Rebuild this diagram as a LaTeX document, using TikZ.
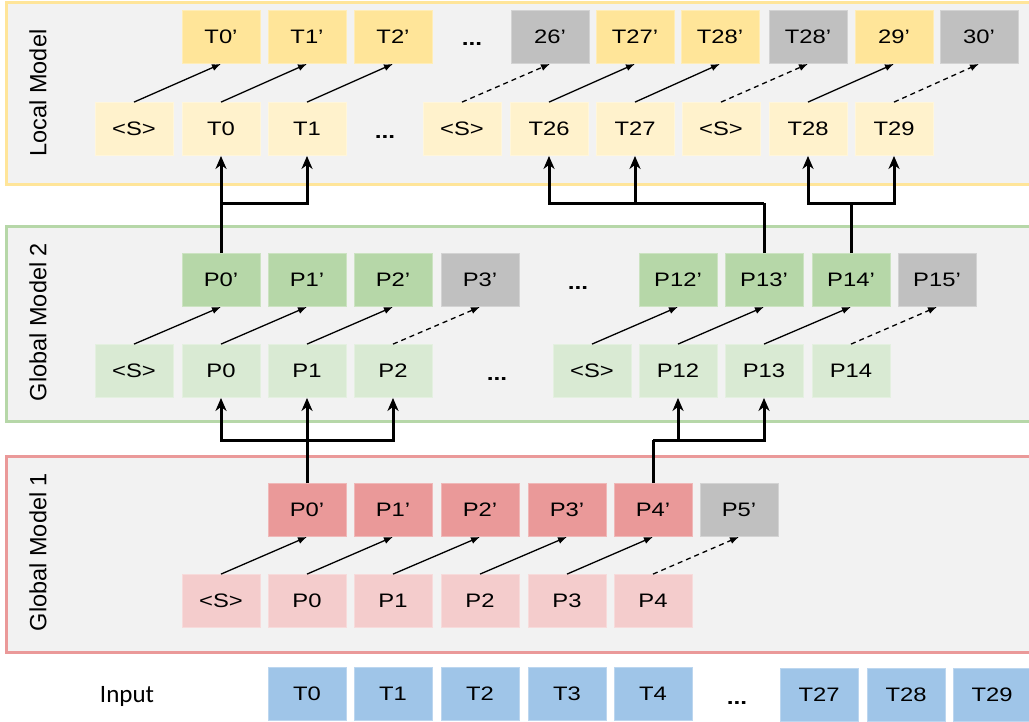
\documentclass[tikz,border=0pt]{standalone}
\usepackage{fontspec}
\usetikzlibrary{arrows.meta}
\newfontfamily\boxfont[FakeStretch=1.22]{Liberation Sans}
\newfontfamily\labfont{Liberation Sans}
\newfontfamily\inpfont{Carlito}
\definecolor{panelbg}{HTML}{F2F2F2}
\definecolor{ytop}{HTML}{FFE599}
\definecolor{ybot}{HTML}{FFF2CC}
\definecolor{gtop}{HTML}{B6D7A8}
\definecolor{gbot}{HTML}{D9EAD3}
\definecolor{rtop}{HTML}{EA9999}
\definecolor{rbot}{HTML}{F4CCCC}
\definecolor{blu}{HTML}{9FC5E8}
\definecolor{gry}{HTML}{C0C0C0}
\tikzset{
  cell/.style={minimum width=78pt, minimum height=53pt, inner sep=0pt,
    font=\boxfont\fontsize{19.5}{22}\selectfont, line width=0.8pt},
  yt/.style={cell, fill=ytop, draw=ytop!70!white},
  yb/.style={cell, fill=ybot, draw=ybot!70!white},
  gt/.style={cell, fill=gtop, draw=gtop!70!white},
  gb/.style={cell, fill=gbot, draw=gbot!70!white},
  rt/.style={cell, fill=rtop, draw=rtop!70!white},
  rb/.style={cell, fill=rbot, draw=rbot!70!white},
  inp/.style={cell, fill=blu, draw=blu!70!white},
  gr/.style={cell, fill=gry, draw=gry!70!white},
  dots/.style={inner sep=0pt, font=\boxfont\bfseries\fontsize{20}{22}\selectfont},
  panel/.style={fill=panelbg, line width=3pt},
  plabel/.style={rotate=90, font=\labfont\fontsize{23.5}{26}\selectfont},
  diag/.style={line width=1.3pt, -{Latex[length=9pt,width=7pt]}},
  diagd/.style={diag, dash pattern=on 5pt off 4pt},
  conn/.style={line width=3pt, -{Stealth[length=13pt,width=11pt,inset=4pt]}},
  connl/.style={line width=3pt},
}
\begin{document}
\begin{tikzpicture}[x=1pt,y=-1pt]
\useasboundingbox (0,0) rectangle (1029,721);
% panels
\draw[panel, draw=ytop] (6,2) rectangle (1045,184);
\draw[panel, draw=gtop] (6,226) rectangle (1045,421);
\draw[panel, draw=rtop] (6,456) rectangle (1045,652);
\node[plabel] (lbl1) at (38,93) {Local Model};
\node[plabel] (lbl2) at (38,322) {Global Model 2};
\node[plabel] (lbl3) at (38,552) {Global Model 1};
\node[font=\inpfont\fontsize{25}{28}\selectfont] (inlbl) at (127,696) {Input};

% Local model top row
\node[yt] (lt1) at (221,37) {T0’};
\node[yt] (lt2) at (307,37) {T1’};
\node[yt] (lt3) at (393,37) {T2’};
\node[dots] (ltd) at (472,44) {...};
\node[gr] (lt4) at (550,37) {26’};
\node[yt] (lt5) at (635,37) {T27’};
\node[yt] (lt6) at (720,37) {T28’};
\node[gr] (lt7) at (808,37) {T28’};
\node[yt] (lt8) at (894,37) {29’};
\node[gr] (lt9) at (979,37) {30’};
% Local model bottom row
\node[yb] (lb0) at (134,129) {<S>};
\node[yb] (lb1) at (221,129) {T0};
\node[yb] (lb2) at (307,129) {T1};
\node[dots] (lbd) at (385,137) {...};
\node[yb] (lb3) at (462,129) {<S>};
\node[yb] (lb4) at (549,129) {T26};
\node[yb] (lb5) at (635,129) {T27};
\node[yb] (lb6) at (721,129) {<S>};
\node[yb] (lb7) at (808,129) {T28};
\node[yb] (lb8) at (894,129) {T29};
\draw[diag] (lb0.north) -- (lt1.south);
\draw[diag] (lb1.north) -- (lt2.south);
\draw[diag] (lb2.north) -- (lt3.south);
\draw[diagd] (lb3.north) -- (lt4.south);
\draw[diag] (lb4.north) -- (lt5.south);
\draw[diag] (lb5.north) -- (lt6.south);
\draw[diagd] (lb6.north) -- (lt7.south);
\draw[diag] (lb7.north) -- (lt8.south);
\draw[diagd] (lb8.north) -- (lt9.south);

% Global model 2 top row
\node[gt] (gt1) at (221,280) {P0’};
\node[gt] (gt2) at (307,280) {P1’};
\node[gt] (gt3) at (393,280) {P2’};
\node[gr] (gt4) at (480,280) {P3’};
\node[dots] (gtd) at (578,288) {...};
\node[gt] (gt5) at (678,280) {P12’};
\node[gt] (gt6) at (764,280) {P13’};
\node[gt] (gt7) at (851,280) {P14’};
\node[gr] (gt8) at (937,280) {P15’};
% Global model 2 bottom row
\node[gb] (gb0) at (134,371) {<S>};
\node[gb] (gb1) at (221,371) {P0};
\node[gb] (gb2) at (307,371) {P1};
\node[gb] (gb3) at (393,371) {P2};
\node[dots] (gbd) at (497,379) {...};
\node[gb] (gb4) at (592,371) {<S>};
\node[gb] (gb5) at (678,371) {P12};
\node[gb] (gb6) at (764,371) {P13};
\node[gb] (gb7) at (851,371) {P14};
\draw[diag] (gb0.north) -- (gt1.south);
\draw[diag] (gb1.north) -- (gt2.south);
\draw[diag] (gb2.north) -- (gt3.south);
\draw[diagd] (gb3.north) -- (gt4.south);
\draw[diag] (gb4.north) -- (gt5.south);
\draw[diag] (gb5.north) -- (gt6.south);
\draw[diag] (gb6.north) -- (gt7.south);
\draw[diagd] (gb7.north) -- (gt8.south);

% Global model 1 top row
\node[rt] (rt1) at (307,510) {P0’};
\node[rt] (rt2) at (393,510) {P1’};
\node[rt] (rt3) at (480,510) {P2’};
\node[rt] (rt4) at (567,510) {P3’};
\node[rt] (rt5) at (653,510) {P4’};
\node[gr] (rt6) at (739,510) {P5’};
% Global model 1 bottom row
\node[rb] (rb0) at (221,601) {<S>};
\node[rb] (rb1) at (307,601) {P0};
\node[rb] (rb2) at (393,601) {P1};
\node[rb] (rb3) at (480,601) {P2};
\node[rb] (rb4) at (567,601) {P3};
\node[rb] (rb5) at (653,601) {P4};
\draw[diag] (rb0.north) -- (rt1.south);
\draw[diag] (rb1.north) -- (rt2.south);
\draw[diag] (rb2.north) -- (rt3.south);
\draw[diag] (rb3.north) -- (rt4.south);
\draw[diag] (rb4.north) -- (rt5.south);
\draw[diagd] (rb5.north) -- (rt6.south);

% Input row
\node[inp] (in0) at (307,694) {T0};
\node[inp] (in1) at (393,694) {T1};
\node[inp] (in2) at (480,694) {T2};
\node[inp] (in3) at (567,694) {T3};
\node[inp] (in4) at (653,694) {T4};
\node[dots] (ind) at (737,703) {...};
\node[inp] (in5) at (819,695) {T27};
\node[inp] (in6) at (906,695) {T28};
\node[inp] (in7) at (992,695) {T29};

% thick connectors
\coordinate (barA) at (0,440);
\coordinate (barB) at (0,203);
\draw[connl] (rt1.north) -- (rt1.north |- barA);
\draw[conn] (rt1.north |- barA) -| (gb1.south);
\draw[conn] (rt1.north |- barA) -| (gb3.south);
\draw[conn] (rt1.north) -- (gb2.south);
\draw[connl] (rt5.north) -- (rt5.north |- barA);
\draw[conn] (rt5.north |- barA) -| (gb5.south);
\draw[conn] (rt5.north |- barA) -| (gb6.south);

\draw[connl] (gt1.north) -- (gt1.north |- barB);
\draw[conn] (gt1.north |- barB) -| (lb1.south);
\draw[conn] (gt1.north |- barB) -| (lb2.south);
\draw[connl] (gt6.north) -- (gt6.north |- barB);
\draw[conn] (gt6.north |- barB) -| (lb4.south);
\draw[conn] (gt6.north |- barB) -| (lb5.south);
\draw[connl] (gt7.north) -- (gt7.north |- barB);
\draw[conn] (gt7.north |- barB) -| (lb7.south);
\draw[conn] (gt7.north |- barB) -| (lb8.south);
\end{tikzpicture}
\end{document}
